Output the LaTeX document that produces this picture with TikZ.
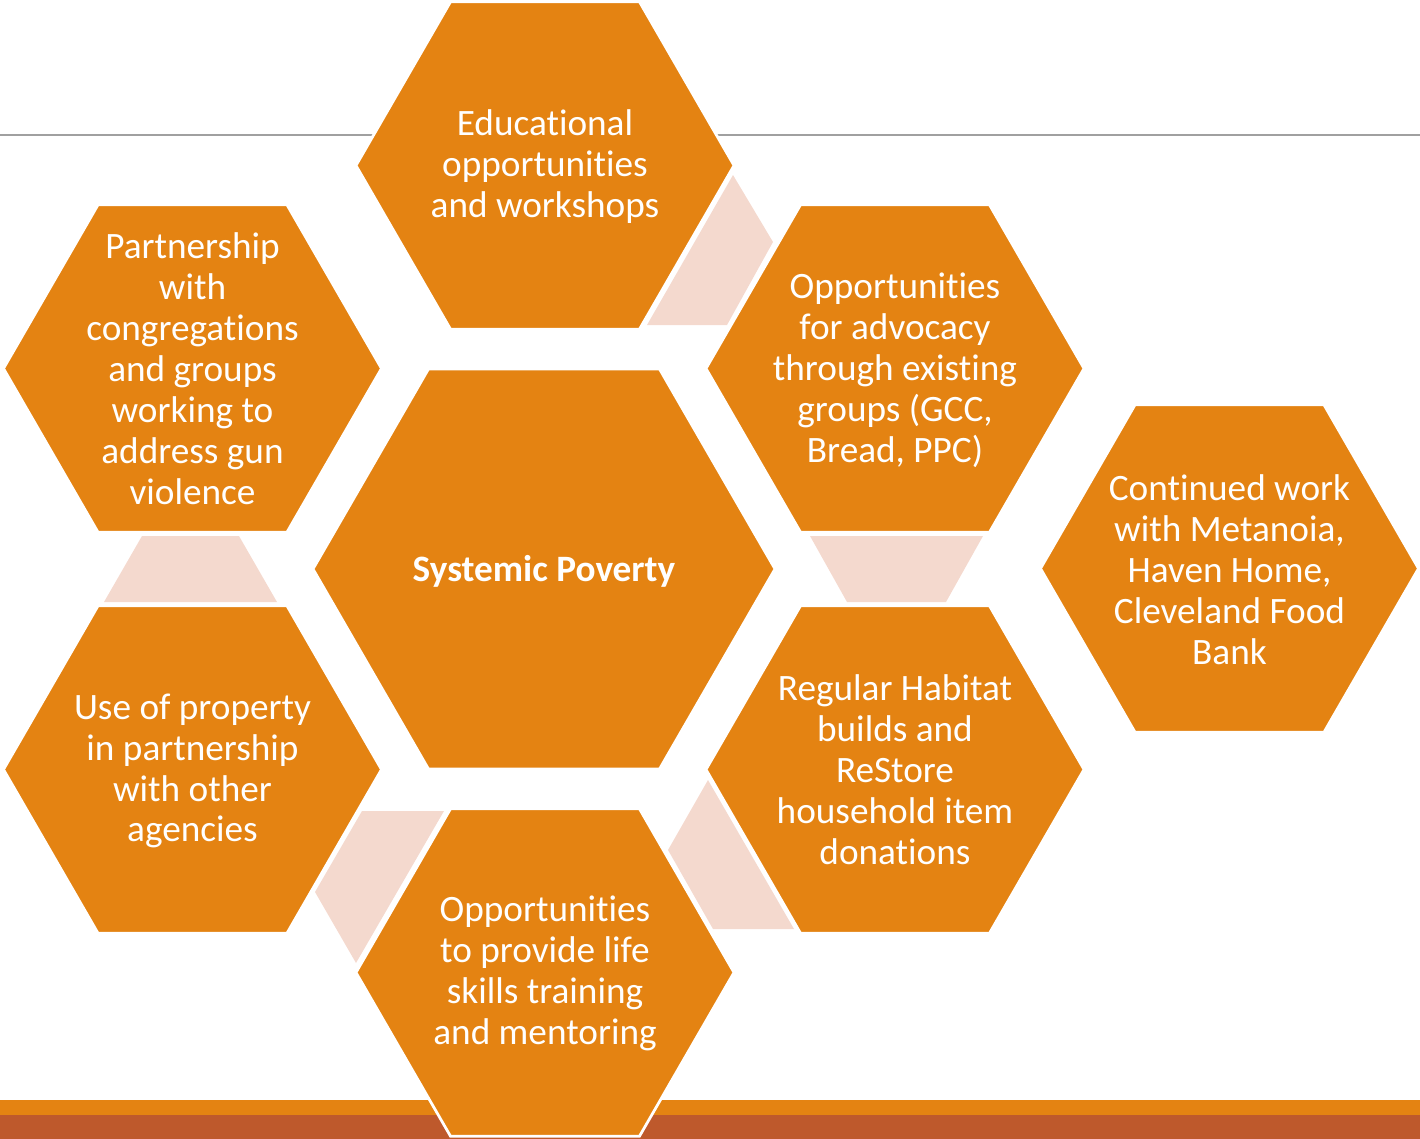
\documentclass[tikz,border=0pt]{standalone}
\usepackage{fontspec}
\setmainfont{Carlito}[Ligatures={NoCommon}]
\definecolor{hexorange}{RGB}{228,131,18}
\definecolor{barorange}{RGB}{228,131,18}
\definecolor{bardark}{RGB}{190,89,44}
\definecolor{pinkfill}{RGB}{244,217,206}
\definecolor{linegray}{RGB}{160,160,160}
\tikzset{
  hexshape/.style={fill=hexorange, draw=white, line width=0.055cm, line join=miter},
  pinkshape/.style={fill=pinkfill, draw=none},
  hextext/.style={text=white, align=center, inner sep=0pt, font=\fontsize{21.2pt}{23.3pt}\selectfont},
}
\newcommand\hexagonat[3]{%
  \path[hexshape] (#1-#3,#2) -- (#1-#3/2,#2-0.866*#3) -- (#1+#3/2,#2-0.866*#3)
    -- (#1+#3,#2) -- (#1+#3/2,#2+0.866*#3) -- (#1-#3/2,#2+0.866*#3) -- cycle;}
\begin{document}
\begin{tikzpicture}[x=0.02cm,y=-0.02cm]
\useasboundingbox (0,0) rectangle (1420,1139);
% background line and bars
\coordinate (lineL) at (0,135);
\coordinate (lineR) at (1420,135);
\draw[linegray, line width=0.03cm] (lineL) -- (lineR);
\fill[barorange] (0,1100) rectangle (1420,1115);
\fill[bardark] (0,1115) rectangle (1420,1139);
% pink connector pieces
\fill[pinkshape] (647,325) -- (733,175) -- (773,242) -- (727,325) -- cycle;
\fill[pinkshape] (142,536) -- (239,536) -- (277,602) -- (104,602) -- cycle;
\fill[pinkshape] (810,536) -- (983,536) -- (946,602) -- (847,602) -- cycle;
\fill[pinkshape] (362,811) -- (444,811) -- (356,963) -- (315,892) -- cycle;
\fill[pinkshape] (708,780) -- (794,929) -- (713,929) -- (668,850) -- cycle;
% hexagons
\hexagonat{544}{569}{231}
\hexagonat{545}{165.5}{189}
\hexagonat{192.5}{368.5}{189}
\hexagonat{192.5}{769.5}{189}
\hexagonat{545}{972.5}{189}
\hexagonat{895}{368.5}{189}
\hexagonat{895}{769.5}{189}
\hexagonat{1229.5}{568.5}{189}
% texts
\node[hextext, font=\fontsize{21.2pt}{23.3pt}\selectfont\bfseries] (center) at (544,571) {Systemic Poverty};
\node[hextext] (top) at (545,166.5) {Educational\\opportunities\\and workshops};
\node[hextext] (topleft) at (192.5,369) {Partnership\\with\\congregations\\and groups\\working to\\address gun\\violence};
\node[hextext] (botleft) at (192.5,771) {Use of property\\in partnership\\with other\\agencies};
\node[hextext] (bottom) at (545,973.5) {Opportunities\\to provide life\\skills training\\and mentoring};
\node[hextext] (topright) at (895,370) {Opportunities\\for advocacy\\through existing\\groups (GCC,\\Bread, PPC)};
\node[hextext] (botright) at (895,769.5) {Regular Habitat\\builds and\\ReStore\\household item\\donations};
\node[hextext] (farright) at (1229.5,569.5) {Continued work\\with Metanoia,\\Haven Home,\\Cleveland Food\\Bank};
\end{tikzpicture}
\end{document}
